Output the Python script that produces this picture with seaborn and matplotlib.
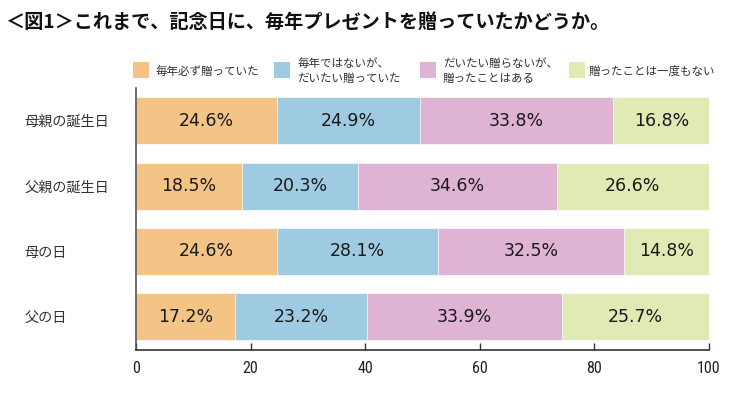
import numpy as np
import pandas as pd
import matplotlib
matplotlib.use("Agg")
import matplotlib.pyplot as plt
from matplotlib.patches import Rectangle
from matplotlib import font_manager
import seaborn as sns

# ---- data ----
categories = ["母親の誕生日", "父親の誕生日", "母の日", "父の日"]
series_names = ["毎年必ず贈っていた", "毎年ではないが、\nだいたい贈っていた",
                "だいたい贈らないが、\n贈ったことはある", "贈ったことは一度もない"]
always = [24.6, 18.5, 24.6, 17.2]
mostly = [24.9, 20.3, 28.1, 23.2]
rarely = [33.8, 34.6, 32.5, 33.9]
never = [16.8, 26.6, 14.8, 25.7]
xticks = [0, 20, 40, 60, 80, 100]
title = "＜図1＞これまで、記念日に、毎年プレゼントを贈っていたかどうか。"

colors = ["#F4C487", "#9ECBE2", "#DEB3D4", "#E0EAB4"]

sns.set_theme(style="white")
plt.rcParams["font.family"] = ["Noto Sans CJK JP", "DejaVu Sans"]

# pick a condensed font for the x tick labels if one is installed
installed = {f.name for f in font_manager.fontManager.ttflist}
narrow = "DejaVu Sans"
for cand in ["Liberation Sans Narrow", "DejaVu Sans Condensed", "Roboto Condensed"]:
    if cand in installed:
        narrow = cand
        break

W, H = 750, 393
fig = plt.figure(figsize=(W / 100, H / 100), dpi=100)
ax = fig.add_axes([136 / W, 1 - 349.5 / H, (709 - 136) / W, (349.5 - 88) / H])

series = [always, mostly, rarely, never]
cum = np.zeros(len(categories))
cums = []
for s in series:
    cum = cum + np.array(s)
    cums.append(cum.copy())

# draw from longest to shortest so segments stack
for i in range(len(series) - 1, -1, -1):
    d = pd.DataFrame({"cat": categories, "val": cums[i]})
    sns.barplot(data=d, x="val", y="cat", color=colors[i], orient="h",
                width=0.72, saturation=1, edgecolor="white", linewidth=0.5,
                ax=ax)

# value labels
for i, s in enumerate(series):
    for j, v in enumerate(s):
        center = cums[i][j] - v / 2
        ax.text(center, j, f"{v}%", ha="center", va="center",
                fontsize=12.5, color="#1a1a1a", family="DejaVu Sans")

ax.set_xlim(0, 100)
ax.set_ylim(3.5, -0.5)
ax.set_xlabel("")
ax.set_ylabel("")
ax.set_xticks(xticks)
xsize = 11.5 if narrow != "DejaVu Sans" else 10
ax.set_xticklabels([str(t) for t in xticks], family=narrow,
                   fontsize=xsize, color="#222222")
ax.tick_params(axis="x", direction="in", length=5, width=1, color="#333333",
               pad=8, bottom=True)
ax.tick_params(axis="y", length=0, pad=80)
for lab in ax.get_yticklabels():
    lab.set_horizontalalignment("left")
    lab.set_fontsize(10.2)
    lab.set_color("#333333")

for side in ["top", "right"]:
    ax.spines[side].set_visible(False)
ax.spines["left"].set_color("#555555")
ax.spines["left"].set_linewidth(1.2)
ax.spines["bottom"].set_color("#333333")
ax.spines["bottom"].set_linewidth(1.2)

# title
fig.text(5 / W, 1 - 22 / H, title, ha="left", va="center", fontsize=13.8,
         fontweight="bold", color="#111111")

# legend (manual layout)
patch_x = [133, 274, 420, 569]
text_x = [155, 297, 443, 589]
for px, tx, name, c in zip(patch_x, text_x, series_names, colors):
    fig.add_artist(Rectangle((px / W, 1 - 78 / H), 16 / W, 16 / H,
                             transform=fig.transFigure, facecolor=c,
                             edgecolor="none"))
    fig.text(tx / W, 1 - 71 / H, name, ha="left", va="center", fontsize=8.3,
             color="#333333", linespacing=1.15)

fig.savefig("out.png", dpi=100)
